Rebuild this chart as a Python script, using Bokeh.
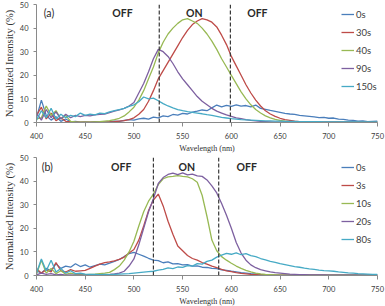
import numpy as np
from bokeh.plotting import figure
from bokeh.layouts import column
from bokeh.models import Range1d, FixedTicker, Span, Label, Legend, LegendItem, Title
from bokeh.embed import file_html
from bokeh.resources import INLINE

# Wavelength grid (nm)
wavelength = np.arange(400, 751, 5)

# ---- Panel (a): normalized intensity (%) ----
labels_a = ["0s", "30s", "40s", "90s", "150s"]
a_0s = [2.0, 9.5, 3.0, 1.0, 2.5, 0.5, 1.5, 0.3, 0.5, 0.2,
        0.3, 0.2, 0.4, 0.2, 0.3, 0.4, 0.6, 0.5, 0.9, 1.2,
        1.0, 1.5, 1.8, 1.4, 2.3, 2.0, 2.8, 2.5, 3.4, 3.1,
        3.9, 3.6, 4.4, 4.8, 5.3, 5.0, 6.2, 7.4, 6.6, 7.3,
        6.8, 7.5, 6.9, 7.2, 6.6, 7.4, 6.0, 5.6, 5.1, 4.7,
        4.3, 3.9, 3.6, 3.4, 3.0, 2.8, 2.6, 2.4, 2.1, 2.2,
        1.8, 1.9, 1.4, 1.3, 1.0, 0.9, 0.6, 0.7, 0.4, 0.5,
        0.6]
a_30s = [3.0, 6.5, 1.5, 4.0, 0.8, 2.0, 0.5, 0.3, 0.2, 0.1,
         0.1, 0.1, 0.2, 0.1, 0.2, 0.3, 0.4, 0.6, 0.8, 1.2,
         2.0, 3.5, 5.5, 9.0, 13.5, 18.5, 22.0, 25.5, 29.0, 32.5,
         36.0, 39.0, 41.5, 43.0, 44.0, 43.5, 42.5, 40.5, 37.0, 33.0,
         28.0, 24.0, 20.0, 16.0, 12.5, 9.5, 7.0, 5.0, 3.6, 2.6,
         1.8, 1.2, 0.9, 0.6, 0.4, 0.3, 0.2, 0.2, 0.1, 0.1,
         0.1, 0.1, 0.1, 0.1, 0.1, 0.1, 0.1, 0.1, 0.1, 0.1,
         0.1]
a_40s = [1.5, 2.0, 7.0, 3.0, 5.0, 1.5, 3.0, 0.5, 0.3, 0.2,
         0.2, 0.2, 0.3, 0.4, 0.6, 0.8, 1.2, 1.8, 2.8, 4.5,
         6.5, 9.5, 13.5, 18.5, 23.5, 29.5, 34.0, 37.5, 40.0, 42.0,
         43.5, 44.0, 43.0, 42.0, 40.0, 37.5, 34.5, 31.0, 27.0, 23.5,
         20.0, 16.5, 13.0, 10.0, 7.5, 5.5, 4.0, 2.8, 2.0, 1.3,
         0.9, 0.6, 0.4, 0.3, 0.2, 0.2, 0.1, 0.1, 0.1, 0.1,
         0.1, 0.1, 0.1, 0.1, 0.1, 0.1, 0.1, 0.1, 0.1, 0.1,
         0.1]
a_90s = [4.0, 1.0, 5.5, 2.0, 4.5, 1.5, 3.5, 2.0, 3.0, 2.5,
         3.0, 2.8, 3.2, 3.5, 3.6, 4.2, 4.8, 5.3, 6.0, 7.0,
         8.5, 12.5, 16.5, 21.5, 27.0, 31.0, 30.0, 28.0, 25.0, 21.5,
         18.5, 16.0, 13.5, 11.0, 9.0, 7.5, 6.0, 4.8, 4.0, 3.2,
         2.6, 2.0, 1.6, 1.2, 0.9, 0.7, 0.5, 0.4, 0.3, 0.2,
         0.1, 0.1, 0.1, 0.1, 0.1, 0.1, 0.1, 0.1, 0.1, 0.1,
         0.1, 0.1, 0.1, 0.1, 0.1, 0.1, 0.1, 0.1, 0.1, 0.1,
         0.1]
a_150s = [1.0, 5.0, 2.0, 6.0, 1.5, 3.5, 2.0, 3.0, 2.5, 4.0,
          3.0, 3.5, 3.2, 4.0, 3.8, 4.5, 5.0, 5.5, 6.0, 6.8,
          7.5, 8.8, 10.8, 10.0, 10.3, 9.2, 8.0, 7.0, 6.2, 5.5,
          5.0, 4.6, 4.3, 4.0, 3.7, 3.3, 3.0, 2.6, 2.2, 1.9,
          1.6, 1.4, 1.2, 1.1, 1.0, 0.9, 0.8, 0.7, 0.7, 0.6,
          0.6, 0.5, 0.5, 0.5, 0.4, 0.4, 0.4, 0.4, 0.4, 0.3,
          0.3, 0.3, 0.3, 0.3, 0.3, 0.3, 0.3, 0.3, 0.3, 0.3,
          0.3]
edges_a = [526, 599]

# ---- Panel (b): normalized intensity (%) ----
labels_b = ["0s", "3s", "10s", "20s", "80s"]
b_0s = [2.0, 1.0, 3.0, 2.0, 5.0, 3.0, 4.0, 3.5, 5.0, 3.8,
        4.5, 3.5, 4.2, 4.8, 4.5, 5.2, 6.0, 6.8, 8.0, 9.3,
        9.8, 9.0, 8.2, 7.3, 6.5, 6.3, 5.4, 5.8, 4.9, 5.0,
        4.5, 4.6, 4.0, 4.1, 3.5, 3.4, 3.0, 2.9, 2.4, 2.2,
        1.8, 1.5, 1.2, 1.0, 0.8, 0.7, 0.5, 0.4, 0.3, 0.2,
        0.2, 0.2, 0.2, 0.2, 0.2, 0.2, 0.2, 0.2, 0.2, 0.2,
        0.2, 0.2, 0.2, 0.2, 0.2, 0.2, 0.2, 0.2, 0.2, 0.2,
        0.2]
b_3s = [3.0, 1.0, 2.5, 1.5, 5.5, 2.0, 1.5, 2.5, 1.8, 2.0,
        2.2, 3.0, 4.0, 4.8, 5.5, 5.8, 6.2, 6.8, 7.8, 9.5,
        11.0, 15.0, 21.0, 27.5, 32.0, 34.5, 29.5, 23.0, 17.5, 12.5,
        10.5, 8.5, 7.2, 6.5, 5.5, 4.8, 4.0, 3.3, 2.6, 2.0,
        1.6, 1.2, 0.9, 0.7, 0.5, 0.4, 0.3, 0.2, 0.2, 0.2,
        0.1, 0.1, 0.1, 0.1, 0.1, 0.1, 0.1, 0.1, 0.1, 0.1,
        0.1, 0.1, 0.1, 0.1, 0.1, 0.1, 0.1, 0.1, 0.1, 0.1,
        0.1]
b_10s = [0.5, 6.5, 1.0, 3.0, 0.8, 2.0, 0.5, 1.0, 0.5, 0.4,
         0.4, 0.5, 0.6, 0.8, 1.0, 1.3, 2.5, 4.0, 6.5, 10.0,
         14.5, 21.0, 27.0, 31.5, 34.5, 38.5, 41.0, 41.8, 42.0, 42.3,
         42.0, 41.8, 41.0, 39.5, 34.0, 25.0, 15.0, 10.5, 8.0, 6.5,
         5.2, 4.0, 3.0, 2.2, 1.5, 1.0, 0.7, 0.5, 0.4, 0.3,
         0.2, 0.2, 0.2, 0.2, 0.2, 0.2, 0.2, 0.2, 0.2, 0.2,
         0.2, 0.2, 0.2, 0.2, 0.2, 0.2, 0.2, 0.2, 0.2, 0.2,
         0.2]
b_20s = [0.3, 1.0, 0.5, 0.8, 0.3, 0.5, 0.2, 0.3, 0.2, 0.2,
         0.2, 0.2, 0.3, 0.3, 0.4, 0.5, 0.7, 1.0, 1.8, 4.0,
         7.0, 13.0, 20.0, 27.0, 32.5, 39.0, 41.5, 42.8, 43.4, 42.7,
         43.5, 42.6, 43.0, 42.2, 42.0, 40.5, 38.0, 35.0, 30.5, 25.5,
         20.0, 14.0, 9.5, 6.5, 4.5, 3.3, 2.5, 2.0, 1.5, 1.2,
         1.0, 0.8, 0.6, 0.5, 0.4, 0.4, 0.3, 0.3, 0.3, 0.3,
         0.2, 0.2, 0.2, 0.2, 0.2, 0.2, 0.2, 0.2, 0.2, 0.2,
         0.2]
b_80s = [1.0, 7.0, 2.0, 6.5, 1.5, 3.0, 1.0, 2.0, 0.8, 1.0,
         0.6, 0.5, 0.5, 0.4, 0.5, 0.4, 0.5, 0.6, 0.7, 0.8,
         1.0, 1.2, 1.4, 1.6, 1.8, 2.3, 2.6, 3.2, 2.9, 3.6,
         3.4, 4.2, 4.0, 5.0, 4.8, 6.0, 6.5, 7.8, 8.6, 9.4,
         9.0, 9.6, 8.8, 9.3, 8.4, 8.0, 7.2, 6.6, 6.0, 5.6,
         5.0, 4.6, 4.2, 3.8, 3.5, 3.1, 2.8, 2.6, 2.3, 2.1,
         2.0, 1.8, 1.5, 1.3, 1.1, 1.0, 0.8, 0.7, 0.6, 0.5,
         0.5]
edges_b = [520, 587]

x_ticks = [400, 450, 500, 550, 600, 650, 700, 750]
y_ticks = [0, 10, 20, 30, 40, 50]
colors = ["#4a7ebb", "#be4b48", "#98b954", "#7d60a0", "#46aac5"]

SANS = "Lato"
SERIF = "Liberation Serif"
AXIS_GREY = "#8a8a8a"
TEXT = "#404040"


def make_panel(tag, labels, series, edges, region_x, region_y, tag_x):
    p = figure(width=385, height=153, output_backend="svg", toolbar_location=None,
               x_range=Range1d(400, 750), y_range=Range1d(0, 50),
               min_border_left=35, min_border_right=8,
               min_border_top=4, min_border_bottom=31)
    p.outline_line_color = None
    p.grid.visible = False
    p.background_fill_color = "white"
    p.border_fill_color = "white"

    for ax, ticks in ((p.xaxis, x_ticks), (p.yaxis, y_ticks)):
        ax.ticker = FixedTicker(ticks=ticks)
        ax.axis_line_color = AXIS_GREY
        ax.major_tick_line_color = AXIS_GREY
        ax.minor_tick_line_color = None
        ax.major_tick_in = 0
        ax.major_label_text_font = SANS
        ax.major_label_text_font_size = "7.5px"
        ax.major_label_text_color = TEXT
    p.xaxis.major_tick_out = 4
    p.xaxis.major_label_standoff = 6
    p.yaxis.major_tick_out = 3
    p.yaxis.major_label_standoff = 5

    # y-axis title
    p.yaxis.axis_label = "Normalized Intensity (%)"
    p.yaxis.axis_label_text_font = SERIF
    p.yaxis.axis_label_text_font_size = "10.5px"
    p.yaxis.axis_label_text_font_style = "normal"
    p.yaxis.axis_label_text_color = "#333333"
    p.yaxis.axis_label_standoff = 2

    # x-axis title, set slightly left of centre
    p.add_layout(Title(text="Wavelength (nm)", align="center", offset=-24,
                       text_font=SERIF, text_font_size="8px",
                       text_font_style="normal", text_color="#333333",
                       standoff=0), "below")

    items = []
    for lab, ys, col in zip(labels, series, colors):
        r = p.line(wavelength, ys, line_color=col, line_width=1.3)
        items.append(LegendItem(label=lab, renderers=[r]))

    for e in edges:
        p.add_layout(Span(location=e, dimension="height", line_color="#3a3a3a",
                          line_width=1.2, line_dash="4 2"))

    for txt, xx in zip(["OFF", "ON", "OFF"], region_x):
        p.add_layout(Label(x=xx, y=region_y, text=txt, text_font=SANS,
                           text_font_size="10.5px", text_font_style="bold",
                           text_color="#2a2a2a", text_align="center",
                           text_baseline="middle"))
    p.add_layout(Label(x=tag_x, y=region_y, text=tag, text_font=SANS,
                       text_font_size="10.5px", text_color="#2a2a2a",
                       text_align="center", text_baseline="middle"))

    legend = Legend(items=items, location=(305, 29), orientation="vertical",
                    padding=0, margin=0, spacing=4, glyph_height=14,
                    label_height=14, glyph_width=13, label_standoff=2,
                    label_text_font=SANS, label_text_font_size="9.5px",
                    label_text_color=TEXT, border_line_color=None,
                    background_fill_alpha=0)
    p.add_layout(legend)
    return p


p_a = make_panel("(a)", labels_a, [a_0s, a_30s, a_40s, a_90s, a_150s], edges_a,
                 [488.3, 562, 626.7], 46.5, 412.8)
p_b = make_panel("(b)", labels_b, [b_0s, b_3s, b_10s, b_20s, b_80s], edges_b,
                 [487, 554.3, 615.7], 45.9, 411)

layout = column(p_a, p_b, spacing=0)
open("out.html", "w").write(file_html(layout, INLINE))
